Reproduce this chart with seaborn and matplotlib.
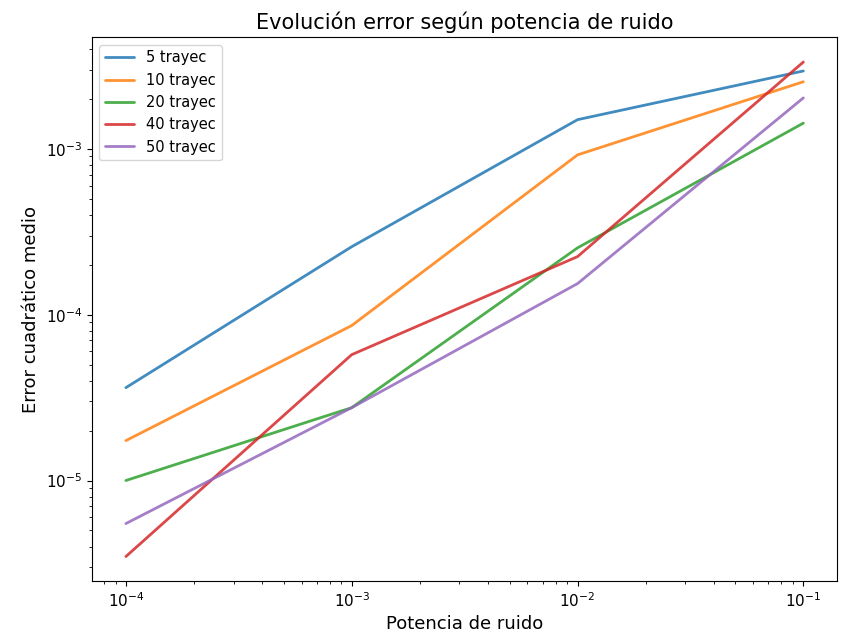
import matplotlib
matplotlib.use("Agg")
import matplotlib.pyplot as plt
import seaborn as sns
import pandas as pd

potencia = [1e-4, 1e-3, 1e-2, 1e-1]
series_names = ["5 trayec", "10 trayec", "20 trayec", "40 trayec", "50 trayec"]
err_5 = [3.63e-5, 2.57e-4, 1.50e-3, 2.95e-3]
err_10 = [1.74e-5, 8.6e-5, 9.2e-4, 2.54e-3]
err_20 = [1.0e-5, 2.75e-5, 2.53e-4, 1.43e-3]
err_40 = [3.48e-6, 5.74e-5, 2.24e-4, 3.34e-3]
err_50 = [5.5e-6, 2.75e-5, 1.54e-4, 2.03e-3]

rows = []
for name, vals in zip(series_names, [err_5, err_10, err_20, err_40, err_50]):
    for x, y in zip(potencia, vals):
        rows.append({"Potencia": x, "Error": y, "Serie": name})
df = pd.DataFrame(rows)

sns.set_style("ticks")
plt.rcParams['font.family'] = ['DejaVu Sans']
plt.rcParams['text.color'] = 'black'
plt.rcParams['axes.labelcolor'] = 'black'
plt.rcParams['xtick.color'] = 'black'
plt.rcParams['ytick.color'] = 'black'
fig = plt.figure(figsize=(8.44, 6.43), dpi=100)
ax = fig.add_axes([0.109, 0.096, 0.883, 0.846])
palette = ["#1f77b4", "#ff7f0e", "#2ca02c", "#d62728", "#9467bd"]
sns.lineplot(data=df, x="Potencia", y="Error", hue="Serie", palette=palette,
             hue_order=series_names, ax=ax, linewidth=2, alpha=0.85, sort=False)
ax.set_xscale("log")
ax.set_yscale("log")
ax.set_title("Evolución error según potencia de ruido", fontsize=15, color="black")
ax.set_xlabel("Potencia de ruido", fontsize=13)
ax.set_ylabel("Error cuadrático medio", fontsize=13)
ax.tick_params(labelsize=11)
for s in ax.spines.values():
    s.set_visible(True)
    s.set_color("black")
leg = ax.legend(loc="upper left", fontsize=10.5, title=None)
fig.savefig("out.png", dpi=100)
